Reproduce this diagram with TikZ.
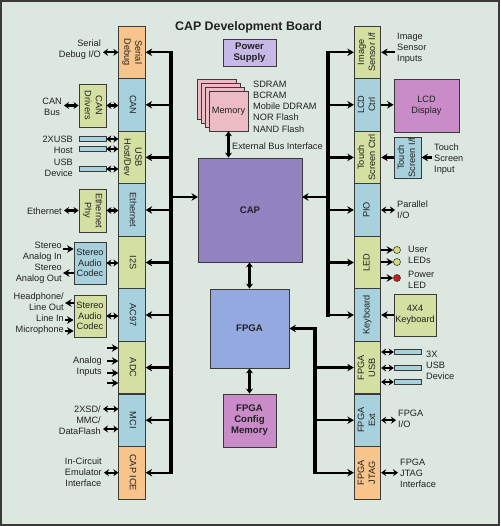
\documentclass[tikz,border=0pt]{standalone}
\usepackage{fontspec}
\setmainfont{Liberation Sans}
\usetikzlibrary{arrows.meta}
\definecolor{bg}{HTML}{DCE7DF}
\definecolor{orng}{HTML}{F7C48C}
\definecolor{blu}{HTML}{A8D1DE}
\definecolor{grn}{HTML}{D3E0A2}
\definecolor{capc}{HTML}{9283C0}
\definecolor{fpgac}{HTML}{93A9DF}
\definecolor{pinkc}{HTML}{C98CC8}
\definecolor{pwrc}{HTML}{C8B8E8}
\definecolor{memc}{HTML}{EDBBC4}
\definecolor{lnc}{HTML}{3A3A3A}
\definecolor{ledg}{HTML}{D8DC7A}
\definecolor{ledr}{HTML}{D01818}
\definecolor{txc}{HTML}{222222}
\newcommand{\myrot}[2]{\rotatebox{#1}{\begin{tabular}{@{}c@{}}#2\end{tabular}}}
\begin{document}
\begin{tikzpicture}[x=1pt,y=-1pt,
  font=\fontsize{9.2}{11}\selectfont, text=txc,
  blk/.style={draw=lnc, line width=0.8pt, minimum width=26.5pt, minimum height=52.56pt, inner sep=0pt},
  box/.style={draw=lnc, line width=0.8pt, inner sep=0pt, align=center},
  bar/.style={draw=lnc, line width=0.6pt, fill=blu, minimum width=27pt, minimum height=5.5pt, inner sep=0pt},
  card/.style={draw=lnc, line width=0.6pt, fill=memc, minimum width=39pt, minimum height=40pt, inner sep=0pt},
  bld/.style={font=\fontsize{9.6}{11}\selectfont\bfseries},
  ltxt/.style={inner sep=0pt, inner xsep=2pt, anchor=east, align=right},
  rtxt/.style={inner sep=0pt, inner xsep=2pt, anchor=west, align=left},
  arr/.style={draw=black, line width=2.4pt, -{Stealth[length=6.5pt,width=7.5pt]}},
  darr/.style={draw=black, line width=2.4pt, {Stealth[length=5pt,width=7pt]}-{Stealth[length=5pt,width=7pt]}},
  bus/.style={draw=black, line width=3.3pt, line cap=rect},
  led/.style={circle, draw=lnc, line width=0.6pt, minimum size=7pt, inner sep=0pt}]
\fill[bg] (0,0) rectangle (500,526);
\draw[lnc, line width=2pt] (1,1) rectangle (499,525);
\useasboundingbox (0,0) rectangle (500,526);

% title
\node[font=\fontsize{12.4}{14}\selectfont\bfseries] (title) at (248.5,27) {CAP Development Board};

% left strip
\node[blk,fill=orng] (sd)   at (132,52.3)  {\myrot{-90}{Serial\\Debug}};
\node[blk,fill=blu]  (can)  at (132,104.8) {\myrot{-90}{CAN}};
\node[blk,fill=grn]  (usb)  at (132,157.4) {\myrot{-90}{USB\\Host/Dev}};
\node[blk,fill=blu]  (eth)  at (132,210)   {\myrot{-90}{Ethernet}};
\node[blk,fill=grn]  (i2s)  at (132,262.5) {\myrot{-90}{I2S}};
\node[blk,fill=blu]  (ac97) at (132,315)   {\myrot{-90}{AC97}};
\node[blk,fill=grn]  (adc)  at (132,367.6) {\myrot{-90}{ADC}};
\node[blk,fill=blu]  (mci)  at (132,420.2) {\myrot{-90}{MCI}};
\node[blk,fill=orng] (ice)  at (132,472.7) {\myrot{-90}{CAP ICE}};

% right strip
\node[blk,fill=grn]  (img)   at (367.5,52.3)  {\myrot{90}{Image\\Sensor I/f}};
\node[blk,fill=blu]  (lcd)   at (367.5,104.8) {\myrot{90}{LCD\\Ctrl}};
\node[blk,fill=grn]  (tsc)   at (367.5,157.4) {\myrot{90}{Touch\\Screen Ctrl}};
\node[blk,fill=blu]  (pio)   at (367.5,210)   {\myrot{90}{PIO}};
\node[blk,fill=grn]  (led)   at (367.5,262.5) {\myrot{90}{LED}};
\node[blk,fill=blu]  (kbd)   at (367.5,315)   {\myrot{90}{Keyboard}};
\node[blk,fill=grn]  (fusb)  at (367.5,367.6) {\myrot{90}{FPGA\\USB}};
\node[blk,fill=blu]  (fext)  at (367.5,420.2) {\myrot{90}{FPGA\\Ext}};
\node[blk,fill=orng] (fjtag) at (367.5,472.7) {\myrot{90}{FPGA\\JTAG}};

% center
\node[box,bld,fill=pwrc,minimum width=53pt,minimum height=27pt] (pwr) at (249.5,52.5) {Power\\Supply};
\node[card] (m1) at (216.5,99) {};
\node[card] (m2) at (220.5,103) {};
\node[card] (m3) at (224.5,107) {};
\node[card] (mem) at (228.5,111) {Memory};
\node[rtxt, inner xsep=0pt, font=\fontsize{9.2}{11.2}\selectfont] (meml) at (253,106.5) {SDRAM\\BCRAM\\Mobile DDRAM\\NOR Flash\\NAND Flash};
\node[rtxt, inner xsep=0pt] (ebi) at (232,146) {External Bus Interface};
\node[box,bld,fill=capc,minimum width=104pt,minimum height=104pt] (cap) at (250,210) {CAP};
\node[box,bld,fill=fpgac,minimum width=79pt,minimum height=79pt] (fpga) at (249.5,328.5) {FPGA};
\node[box,bld,fill=pinkc,minimum width=53pt,minimum height=53pt] (cfg) at (249.5,420.5) {FPGA\\Config\\Memory};
\draw[darr] (mem.south) -- (mem.south |- cap.north);
\draw[darr] (fpga.north) -- (fpga.north |- cap.south);
\draw[darr] (cfg.north) -- (fpga.south);

% buses
\coordinate (lbus) at (171,0);
\coordinate (rbus) at (328,0);
\coordinate (fbus) at (315,0);
\coordinate (capL) at (198,197);
\coordinate (capR) at (302,197);
\draw[bus] (sd.east -| lbus) -- (ice.east -| lbus);
\foreach \n in {sd,can,usb,eth,i2s,ac97,adc,mci,ice} \draw[arr] (\n.east -| lbus) -- (\n.east);
\draw[arr] (capL -| lbus) -- (capL);
\draw[bus] (img.west -| rbus) -- (kbd.west -| rbus);
\foreach \n in {img,lcd,tsc,pio,led,kbd} \draw[arr] (\n.west -| rbus) -- (\n.west);
\draw[arr] (capR -| rbus) -- (capR);
\draw[bus] (fpga.east -| fbus) -- (fjtag.west -| fbus);
\draw[arr] (fpga.east -| fbus) -- (fpga.east);
\foreach \n in {fusb,fext,fjtag} \draw[arr] (\n.west -| fbus) -- (\n.west);

% left externals
\node[ltxt] (sdt) at (103,49.5) {Serial\\Debug I/O};
\draw[darr] (sd.west -| sdt.east) -- (sd.west);

\node[box,fill=grn,minimum width=27pt,minimum height=43pt] (cand) at (92.5,105.5) {\myrot{-90}{CAN\\Drivers}};
\node[ltxt, align=center] (canb) at (64,106.5) {CAN\\Bus};
\draw[darr] (cand.east) -- (cand.east -| can.west);
\draw[darr] (cand.west -| canb.east) -- (cand.west);

\node[bar] (ub1) at (92.5,139) {};
\node[bar] (ub2) at (92.5,149) {};
\node[bar] (ub3) at (92.5,169) {};
\node[ltxt] (uht) at (75,144.5) {2XUSB\\Host};
\node[ltxt] (udt) at (75,167.5) {USB\\Device};
\foreach \n in {ub1,ub2,ub3} \draw[darr] (\n.east) -- (\n.east -| usb.west);

\node[box,fill=grn,minimum width=27pt,minimum height=43pt] (ephy) at (92.5,210.5) {\myrot{-90}{Ethernet\\Phy}};
\node[ltxt] (etht) at (64,211) {Ethernet};
\draw[darr] (ephy.east) -- (ephy.east -| eth.west);
\draw[darr] (ephy.west -| etht.east) -- (ephy.west);

\node[box,fill=blu,minimum width=32pt,minimum height=42pt,font=\fontsize{9.2}{10.5}\selectfont] (cod1) at (90,263) {Stereo\\Audio\\Codec};
\node[ltxt] (i2st) at (64,262.5) {Stereo\\Analog In\\Stereo\\Analog Out};
\draw[darr] (cod1.east) -- (cod1.east -| i2s.west);
\coordinate (ain) at (63,249);
\coordinate (aout) at (63,273);
\draw[arr] (ain) -- (ain -| cod1.west);
\draw[arr] (aout -| cod1.west) -- (aout);

\node[box,fill=grn,minimum width=32pt,minimum height=42pt,font=\fontsize{9.2}{10.5}\selectfont] (cod2) at (90,316) {Stereo\\Audio\\Codec};
\node[ltxt] (ac97t) at (66,313.5) {Headphone/\\Line Out\\Line In\\Microphone};
\draw[darr] (cod2.east) -- (cod2.east -| ac97.west);
\coordinate (hp) at (65,303);
\coordinate (lin) at (65,320);
\coordinate (mic) at (65,331);
\draw[arr] (hp -| cod2.west) -- (hp);
\draw[arr] (lin) -- (lin -| cod2.west);
\draw[arr] (mic) -- (mic -| cod2.west);

\node[ltxt] (adct) at (104,366.5) {Analog\\Inputs};
\foreach \y/\k in {348/a1,361/a2,373/a3,383/a4} {
  \coordinate (\k) at (107,\y);
  \draw[arr] (\k) -- (\k -| adc.west);
}

\node[ltxt] (mcit) at (103,420) {2XSD/\\MMC/\\DataFlash};
\coordinate (sd1) at (103,409);
\coordinate (sd2) at (103,429);
\draw[darr] (sd1) -- (sd1 -| mci.west);
\draw[darr] (sd2) -- (sd2 -| mci.west);

\node[ltxt, align=center] (icet) at (104,472) {In-Circuit\\Emulator\\Interface};
\draw[darr] (ice.west -| icet.east) -- (ice.west);

% right externals
\node[rtxt] (imgt) at (395,48) {Image\\Sensor\\Inputs};
\draw[arr] (img.east -| imgt.west) -- (img.east);

\node[box,fill=pinkc,minimum width=65pt,minimum height=53pt] (lcdd) at (426.5,105.5) {LCD\\Display};
\draw[arr] (lcd.east) -- (lcd.east -| lcdd.west);

\node[box,fill=blu,minimum width=27pt,minimum height=41pt] (tsb) at (407.5,157.5) {\myrot{90}{Touch\\Screen I/f}};
\node[rtxt] (tst) at (432,159.5) {Touch\\Screen\\Input};
\draw[arr] (tsb.west |- tsc.east) -- (tsc.east);
\draw[arr] (tsb.east -| tst.west) -- (tsb.east);

\node[rtxt] (piot) at (395,210) {Parallel\\I/O};
\draw[darr] (pio.east) -- (pio.east -| piot.west);

\node[led,fill=ledg] (l1) at (397,250) {};
\node[led,fill=ledg] (l2) at (397,262) {};
\node[led,fill=ledr] (l3) at (397,278) {};
\foreach \n in {l1,l2,l3} \draw[arr] (\n -| led.east) -- (\n.west);
\node[rtxt] (ult) at (406,254.5) {User\\LEDs};
\node[rtxt] (plt) at (406,279.5) {Power\\LED};

\node[box,fill=grn,minimum width=42pt,minimum height=42pt] (kb) at (415,315) {4X4\\Keyboard};
\draw[arr] (kb.west) -- (kb.west -| kbd.east);

\node[bar] (rb1) at (407.5,352) {};
\node[bar] (rb2) at (407.5,368) {};
\node[bar] (rb3) at (407.5,382) {};
\foreach \n in {rb1,rb2,rb3} \draw[darr] (\n.west -| fusb.east) -- (\n.west);
\node[rtxt] (usbt) at (424,365) {3X\\USB\\Device};

\node[rtxt] (fextt) at (396,418.5) {FPGA\\I/O};
\draw[darr] (fext.east) -- (fext.east -| fextt.west);

\node[rtxt] (fjt) at (398,473) {FPGA\\JTAG\\Interface};
\draw[darr] (fjtag.east) -- (fjtag.east -| fjt.west);
\end{tikzpicture}
\end{document}
